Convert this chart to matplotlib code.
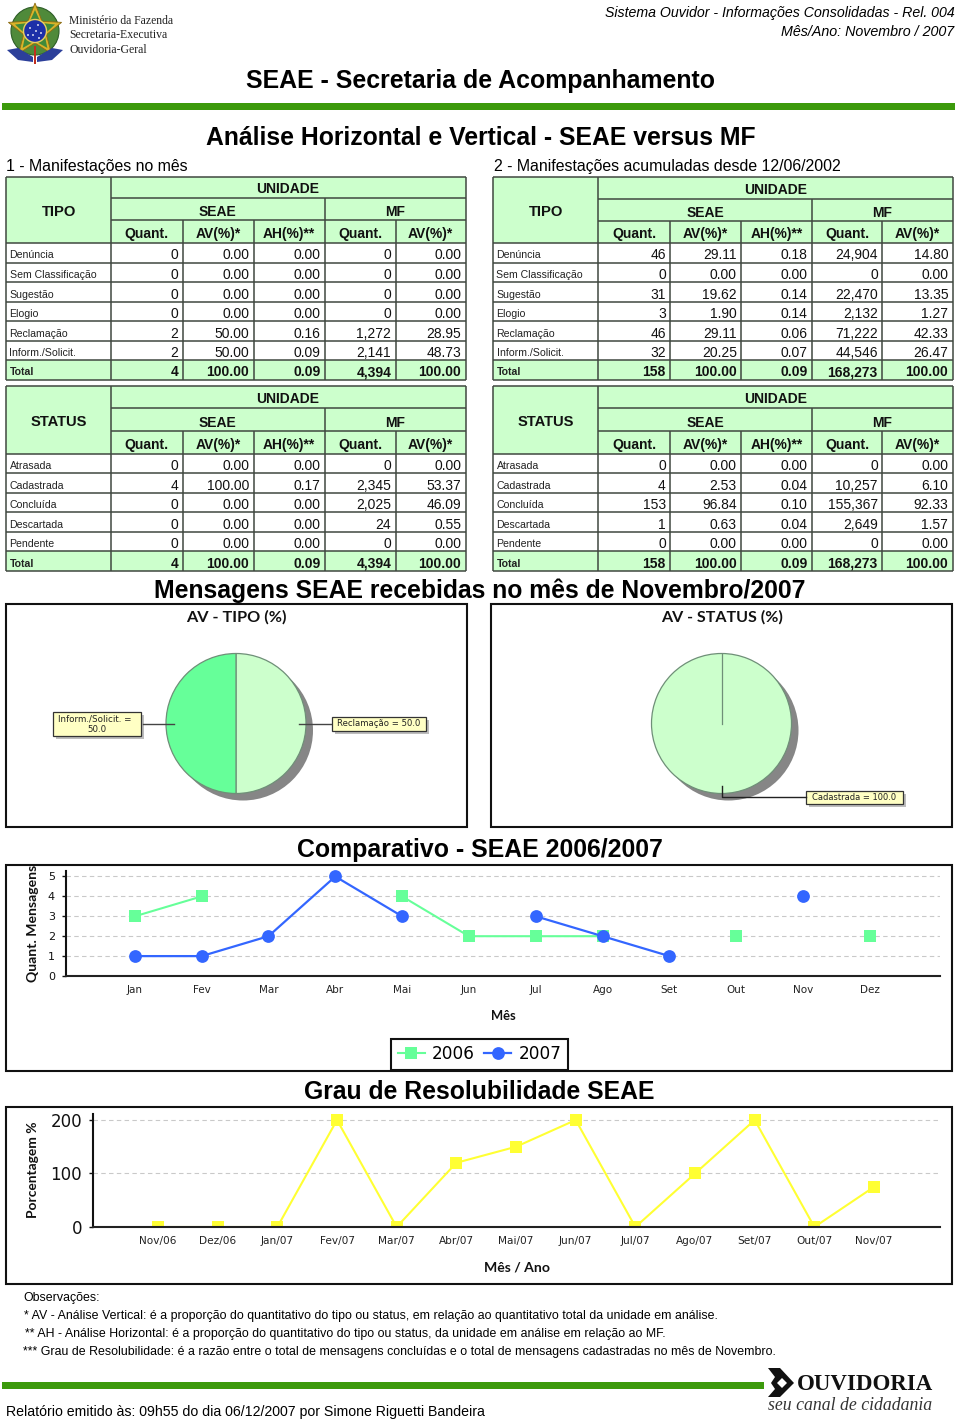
import numpy as np
import matplotlib
matplotlib.use("Agg")
import matplotlib.pyplot as plt
from matplotlib.patches import Rectangle, Circle, Polygon

W, H = 960, 1419
SANS = "Liberation Sans"
SERIF = "Liberation Serif"
CHART = "DejaVu Sans"
CHART_B = "Lato"
HDR = "#CCFFCC"
GRID = "#404840"

# ---- table data ----
tipo_labels = ["Denúncia", "Sem Classificação", "Sugestão", "Elogio", "Reclamação", "Inform./Solicit.", "Total"]
status_labels = ["Atrasada", "Cadastrada", "Concluída", "Descartada", "Pendente", "Total"]

t1_seae_q = [0, 0, 0, 0, 2, 2, 4]
t1_seae_av = [0, 0, 0, 0, 50, 50, 100]
t1_seae_ah = [0, 0, 0, 0, 0.16, 0.09, 0.09]
t1_mf_q = [0, 0, 0, 0, 1272, 2141, 4394]
t1_mf_av = [0, 0, 0, 0, 28.95, 48.73, 100]

t2_seae_q = [46, 0, 31, 3, 46, 32, 158]
t2_seae_av = [29.11, 0, 19.62, 1.90, 29.11, 20.25, 100]
t2_seae_ah = [0.18, 0, 0.14, 0.14, 0.06, 0.07, 0.09]
t2_mf_q = [24904, 0, 22470, 2132, 71222, 44546, 168273]
t2_mf_av = [14.80, 0, 13.35, 1.27, 42.33, 26.47, 100]

s1_seae_q = [0, 4, 0, 0, 0, 4]
s1_seae_av = [0, 100, 0, 0, 0, 100]
s1_seae_ah = [0, 0.17, 0, 0, 0, 0.09]
s1_mf_q = [0, 2345, 2025, 24, 0, 4394]
s1_mf_av = [0, 53.37, 46.09, 0.55, 0, 100]

s2_seae_q = [0, 4, 153, 1, 0, 158]
s2_seae_av = [0, 2.53, 96.84, 0.63, 0, 100]
s2_seae_ah = [0, 0.04, 0.10, 0.04, 0, 0.09]
s2_mf_q = [0, 10257, 155367, 2649, 0, 168273]
s2_mf_av = [0, 6.10, 92.33, 1.57, 0, 100]

# ---- chart data ----
pie_tipo_labels = ["Reclamação", "Inform./Solicit."]
pie_tipo_values = [50.0, 50.0]
pie_status_labels = ["Cadastrada"]
pie_status_values = [100.0]

meses = ["Jan", "Fev", "Mar", "Abr", "Mai", "Jun", "Jul", "Ago", "Set", "Out", "Nov", "Dez"]
n = np.nan
serie_2006 = [3, 4, n, n, 4, 2, 2, 2, n, 2, n, 2]
serie_2007 = [1, 1, 2, 5, 3, n, 3, 2, 1, n, 4, n]

meses_ano = ["Nov/06", "Dez/06", "Jan/07", "Fev/07", "Mar/07", "Abr/07", "Mai/07",
             "Jun/07", "Jul/07", "Ago/07", "Set/07", "Out/07", "Nov/07"]
resolubilidade = [0, 0, 0, 200, 0, 120, 150, 200, 0, 100, 200, 0, 75]

fig = plt.figure(figsize=(W / 100, H / 100), dpi=100, facecolor="white")
rend = fig.canvas.get_renderer()


def axes_px(x0, y0, x1, y1, z=1):
    a = fig.add_axes([x0 / W, 1 - y1 / H, (x1 - x0) / W, (y1 - y0) / H], zorder=z)
    a.patch.set_alpha(0)
    return a


def overlay(z):
    a = axes_px(0, 0, W, H, z)
    a.set_xlim(0, W)
    a.set_ylim(H, 0)
    a.axis("off")
    return a


base = overlay(0)
top = overlay(2)


def fit(t, width):
    """Scale a text so that it is `width` pixels long."""
    bb = t.get_window_extent(rend)
    t.set_fontsize(t.get_fontsize() * width / max(bb.width, bb.height))
    return t


def span(a, s, x0, x1, y, family=SANS, weight="normal", style="normal", color="black"):
    t = a.text((x0 + x1) / 2, y + 1, s, ha="center", va="center", family=family,
               weight=weight, style=style, color=color, fontsize=10)
    return fit(t, x1 - x0)


# ---- header ----
def crest(a, cx, cy):
    a.add_patch(Circle((cx, cy), 24, fc="#4f8a3a", ec="#2e5e28", lw=0.8))
    ang = np.pi / 2 + np.arange(10) * np.pi / 5
    rad = np.array([28, 12] * 5)
    a.add_patch(Polygon(np.c_[cx + rad * np.cos(ang), cy - rad * np.sin(ang)], fc="#d8b32a", ec="#8a6a12", lw=0.6))
    rad2 = np.array([21, 10] * 5)
    a.add_patch(Polygon(np.c_[cx + rad2 * np.cos(ang), cy - rad2 * np.sin(ang)], fc="#3f8a3a", ec="none"))
    a.add_patch(Circle((cx, cy), 11.5, fc="#1c2fa8", ec="#e8d060", lw=1))
    for dx, dy in [(-5, -3), (3, -6), (6, 2), (-2, 4), (-7, 4), (1, 0), (4, 7)]:
        a.add_patch(Circle((cx + dx, cy + dy), 0.9, fc="white", ec="none"))
    a.add_patch(Polygon([(7, 50), (18, 48), (33, 57), (33, 62), (18, 60)], fc="#2c3f9a", ec="none"))
    a.add_patch(Polygon([(63, 50), (52, 48), (37, 57), (37, 62), (52, 60)], fc="#2c3f9a", ec="none"))
    a.add_patch(Rectangle((cx - 1.2, 46), 2.4, 18, fc="#c03020", ec="none"))


crest(base, 35, 31)
span(base, "Ministério da Fazenda", 69, 174, 20, family=SERIF, color="#222222")
span(base, "Secretaria-Executiva", 69, 167, 34.5, family=SERIF, color="#222222")
span(base, "Ouvidoria-Geral", 69, 147, 49, family=SERIF, color="#222222")
span(base, "Sistema Ouvidor - Informações Consolidadas - Rel. 004", 604, 955, 12, style="italic")
span(base, "Mês/Ano: Novembro / 2007", 781, 955, 31, style="italic")
span(base, "SEAE - Secretaria de Acompanhamento", 246, 714, 80, weight="bold")
base.add_patch(Rectangle((2, 102.5), 953, 7, fc="#3C9A0C", ec="none"))
span(base, "Análise Horizontal e Vertical - SEAE versus MF", 205, 756, 137, weight="bold")
span(base, "1 - Manifestações no mês", 6, 188, 165.5)
span(base, "2 - Manifestações acumuladas desde 12/06/2002", 493, 841, 165.5)


# ---- tables ----
def table(a, xs, hy, ry, head, labels, q1, av1, ah1, q2, av2):
    y0, y1, y2, y3 = hy
    total_row = len(labels) - 1
    a.add_patch(Rectangle((xs[0], y0), xs[-1] - xs[0], y3 - y0, fc=HDR, ec="none"))
    a.add_patch(Rectangle((xs[0], ry[total_row]), xs[-1] - xs[0], ry[-1] - ry[total_row], fc=HDR, ec="none"))
    lk = dict(color=GRID, lw=1.1, solid_capstyle="butt")
    a.plot([xs[0], xs[-1]], [y0, y0], **lk)
    a.plot([xs[1], xs[-1]], [y1, y1], **lk)
    a.plot([xs[1], xs[-1]], [y2, y2], **lk)
    for y in [y3] + list(ry[1:]):
        a.plot([xs[0], xs[-1]], [y, y], **lk)
    a.plot([xs[0], xs[0]], [y0, ry[-1]], **lk)
    a.plot([xs[1], xs[1]], [y0, ry[-1]], **lk)
    a.plot([xs[-1], xs[-1]], [y0, ry[-1]], **lk)
    a.plot([xs[4], xs[4]], [y1, ry[-1]], **lk)
    for i in (2, 3, 5):
        a.plot([xs[i], xs[i]], [y2, ry[-1]], **lk)
    hk = dict(family=SANS, weight="bold", fontsize=10, ha="center", va="baseline", color="#111111")
    a.text((xs[0] + xs[1]) / 2 + 0.8, (y0 + y3) / 2 + 6, head, **{**hk, "fontsize": 10.6})
    a.text((xs[1] + xs[-1]) / 2, y1 - 4.8, "UNIDADE", **hk)
    a.text((xs[1] + xs[4]) / 2, y2 - 4, "SEAE", **hk)
    a.text((xs[4] + xs[-1]) / 2, y2 - 4, "MF", **hk)
    for i, s in enumerate(["Quant.", "AV(%)*", "AH(%)**", "Quant.", "AV(%)*"]):
        a.text((xs[i + 1] + xs[i + 2]) / 2, y3 - 5, s, **hk)
    for r, lab in enumerate(labels):
        bold = "bold" if r == total_row else "normal"
        base_y = ry[r + 1] - 3.2
        a.text(xs[0] + 3.5, base_y - 1, lab, family=SANS, weight=bold, fontsize=7.6, va="baseline", color="#222222")
        cells = [f"{q1[r]:,}", f"{av1[r]:.2f}", f"{ah1[r]:.2f}", f"{q2[r]:,}", f"{av2[r]:.2f}"]
        for c, s in enumerate(cells):
            a.text(xs[c + 2] - 4.2, base_y, s, family=SANS, weight=bold, fontsize=10, ha="right",
                   va="baseline", color="#111111")


xs_l = [6, 110.5, 182.5, 253.5, 324.5, 395.5, 465.5]
xs_r = [493, 598, 670, 741, 812, 882, 952.5]
rows_t = [243, 262.5, 282, 302, 321, 341, 360, 379.5]
rows_s = [454, 473, 493, 512, 532, 551, 571]
table(base, xs_l, (177, 198, 220, 243), rows_t, "TIPO", tipo_labels, t1_seae_q, t1_seae_av, t1_seae_ah, t1_mf_q, t1_mf_av)
table(base, xs_r, (177, 199, 221, 243), rows_t, "TIPO", tipo_labels, t2_seae_q, t2_seae_av, t2_seae_ah, t2_mf_q, t2_mf_av)
table(base, xs_l, (386, 408, 431, 454), rows_s, "STATUS", status_labels, s1_seae_q, s1_seae_av, s1_seae_ah, s1_mf_q, s1_mf_av)
table(base, xs_r, (386, 408, 431, 454), rows_s, "STATUS", status_labels, s2_seae_q, s2_seae_av, s2_seae_ah, s2_mf_q, s2_mf_av)

span(base, "Mensagens SEAE recebidas no mês de Novembro/2007", 153, 806, 590, weight="bold")
span(base, "Comparativo - SEAE 2006/2007", 297, 663, 849.5, weight="bold")
span(base, "Grau de Resolubilidade SEAE", 304, 655, 1091, weight="bold")


# ---- panels ----
def panel(x0, y0, x1, y1):
    base.add_patch(Rectangle((x0, y0), x1 - x0, y1 - y0, fc="white", ec="#111111", lw=1.5, zorder=-1))


panel(6, 603.5, 466.5, 827)
panel(491, 604, 952, 827)
panel(6, 864.5, 952, 1071)
panel(6, 1107, 952, 1284)


def pie(cx, cy, r, values, colors, seam=False):
    base.add_patch(Circle((cx + 7, cy + 7), r, fc="#868686", ec="none"))
    a = axes_px(cx - r, cy - r, cx + r, cy + r)
    a.pie(values, colors=colors, startangle=90, counterclock=False, radius=1,
          wedgeprops=dict(edgecolor="#6f8f78", linewidth=0.9))
    if seam:
        a.plot([0, 0], [0, 1], color="#6f8f78", lw=0.9)
    a.set_xlim(-1, 1)
    a.set_ylim(-1, 1)


def callout(x0, y0, x1, y1, lines):
    top.add_patch(Rectangle((x0 + 3, y0 + 3), x1 - x0, y1 - y0, fc="#BDBDBD", ec="none"))
    top.add_patch(Rectangle((x0, y0), x1 - x0, y1 - y0, fc="#FFFFC4", ec="#333333", lw=0.9))
    for (s, a0, a1, y) in lines:
        span(top, s, a0, a1, y - 1, family=CHART, color="#222222")


span(base, "AV - TIPO (%)", 186, 286, 616, family=CHART_B, weight="bold", color="#111111")
span(base, "AV - STATUS (%)", 661, 783, 616, family=CHART_B, weight="bold", color="#111111")
pie(236, 723.5, 70, pie_tipo_values, ["#CCFFCC", "#66FF99"])
pie(721.5, 723.5, 70, pie_status_values, ["#CCFFCC"], seam=True)

top.plot([143, 174], [724, 724], color="#444444", lw=1)
top.plot([299, 331], [724, 724], color="#444444", lw=1)
callout(52.5, 712, 140.5, 736, [(f"{pie_tipo_labels[1]} =", 58, 132, 719), (f"{pie_tipo_values[1]:.1f}", 87, 106, 729)])
callout(331.5, 717, 425.5, 731, [(f"{pie_tipo_labels[0]} = {pie_tipo_values[0]:.1f}", 337, 420, 724)])
top.plot([721.5, 721.5, 806], [786, 797, 797], color="#222222", lw=1)
callout(806, 791, 903, 804, [(f"{pie_status_labels[0]} = {pie_status_values[0]:.1f}", 812, 897, 797.5)])


def style_axes(a, tick_y, tick_x):
    for s in ("top", "right"):
        a.spines[s].set_visible(False)
    a.spines["left"].set_linewidth(1.5)
    a.spines["left"].set_color("#111111")
    a.spines["bottom"].set_linewidth(1.5)
    a.spines["bottom"].set_color("#222222")
    a.grid(axis="y", ls=(0, (4, 3)), lw=0.8, color="#C9C9C9")
    a.set_axisbelow(True)
    a.tick_params(axis="y", length=3, width=1, pad=5, labelsize=tick_y, colors="#111111")
    a.tick_params(axis="x", length=0, pad=6.5, labelsize=tick_x, labelcolor="#222222")


# ---- comparison chart ----
ax = axes_px(66, 871, 940, 976)
ax.plot(range(12), serie_2006, color="#66FF99", lw=1.5, marker="s", ms=9.2, mew=0, label="2006")
ax.plot(range(12), serie_2007, color="#3366FF", lw=1.6, marker="o", ms=9.2, mew=0, label="2007")
ax.set_xlim(-1.03, 12.05)
ax.set_ylim(0, 5.276)
ax.set_yticks(range(6))
ax.set_xticks(range(12), meses)
style_axes(ax, 8, 7.5)
for ln in ax.get_lines():
    ln.set_clip_on(False)
xl = ax.set_xlabel("Mês", weight="bold", va="center", color="#111111", family=CHART_B)
ax.xaxis.set_label_coords((503 - 66) / 874, -(1016 - 976) / 105)
fit(xl, 25)
yl = ax.set_ylabel("Quant. Mensagens", weight="bold", va="center", ha="center", color="#111111", family=CHART_B)
ax.yaxis.set_label_coords((33 - 66) / 874, (976 - 923.5) / 105)
fit(yl, 117)
leg = ax.legend(loc="center", bbox_to_anchor=(479.5 / W, 1 - 1054.3 / H), bbox_transform=fig.transFigure,
                ncol=2, fontsize=12.2, frameon=True, fancybox=False, edgecolor="#111111", framealpha=1,
                borderpad=0.40, handlelength=1.6, handletextpad=0.42, columnspacing=0.55, borderaxespad=0)
leg.get_frame().set_linewidth(1.5)

# ---- resolubility chart ----
ax2 = axes_px(93, 1114, 940, 1227)
ax2.plot(range(13), resolubilidade, color="#FFFF33", lw=1.5, marker="s", ms=9, mew=0)
ax2.set_xlim(-1.089, 13.105)
ax2.set_ylim(0, 211.2)
ax2.set_yticks([0, 100, 200])
ax2.set_xticks(range(13), meses_ano)
style_axes(ax2, 12, 7.6)
xl2 = ax2.set_xlabel("Mês / Ano", weight="bold", va="center", color="#111111", family=CHART_B)
ax2.xaxis.set_label_coords((516.5 - 93) / 847, -(1267 - 1227) / 113)
fit(xl2, 66)
yl2 = ax2.set_ylabel("Porcentagem %", weight="bold", va="center", ha="center", color="#111111", family=CHART_B)
ax2.yaxis.set_label_coords((33 - 93) / 847, (1227 - 1170) / 113)
fit(yl2, 96)

# ---- notes ----
span(base, "Observações:", 24, 100, 1297)
span(base, "* AV - Análise Vertical: é a proporção do quantitativo do tipo ou status, em relação ao quantitativo total da unidade em análise.", 24, 718, 1315)
span(base, "** AH - Análise Horizontal: é a proporção do quantitativo do tipo ou status, da unidade em análise em relação ao MF.", 24, 666, 1333)
span(base, "*** Grau de Resolubilidade: é a razão entre o total de mensagens concluídas e o total de mensagens cadastradas no mês de Novembro.", 24, 775, 1351)
span(base, "Relatório emitido às: 09h55 do dia 06/12/2007 por Simone Riguetti Bandeira", 6, 485, 1411)

# ---- footer logo ----
base.add_patch(Rectangle((2, 1382), 762, 7, fc="#3C9A0C", ec="none"))
base.add_patch(Polygon([(768, 1368), (780, 1368), (794, 1383), (780, 1397), (768, 1397), (775, 1389), (771, 1383), (775, 1377)],
                       fc="#111111", ec="none"))
base.add_patch(Polygon([(777, 1383), (782, 1378), (787, 1383), (782, 1388)], fc="white", ec="none"))
span(base, "OUVIDORIA", 797, 932, 1383, family=SERIF, weight="bold", color="#111111")
span(base, "seu canal de cidadania", 768, 933, 1405, family=SERIF, style="italic", color="#333333")

fig.savefig("out.png", dpi=100)
